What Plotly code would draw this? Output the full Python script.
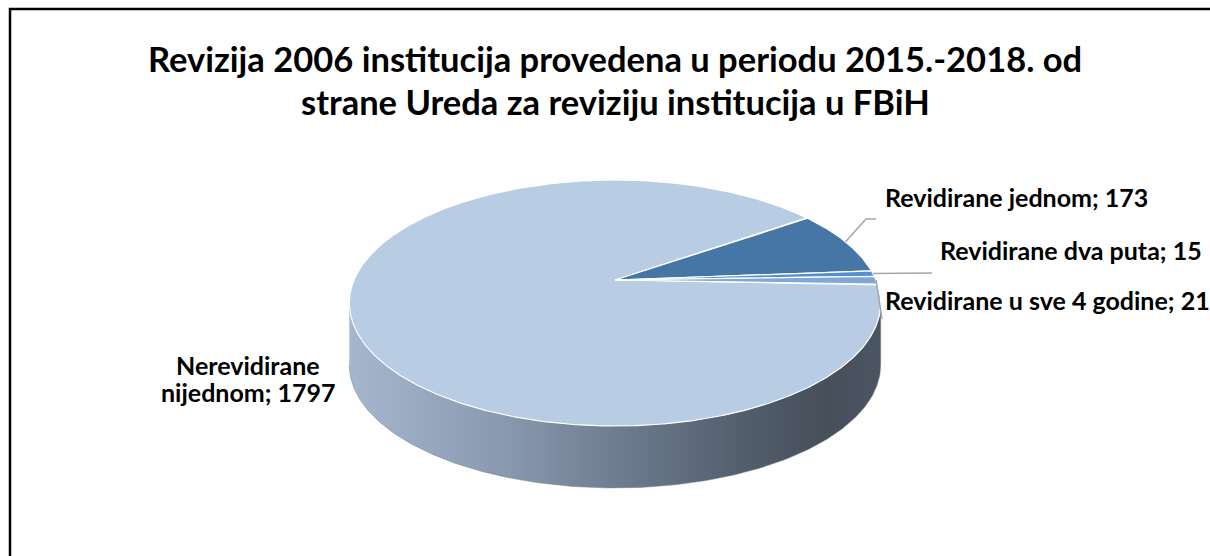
import numpy as np
import plotly.graph_objects as go

# ---------------- data ----------------
labels = ["Nerevidirane nijednom", "Revidirane jednom", "Revidirane dva puta", "Revidirane u sve 4 godine"]
values = [1797, 173, 15, 21]
top_colors = ["#B8CCE4", "#4576A6", "#5590CE", "#7EA8D9"]
side_colors = ["#6F7D91", "#2F5478", "#3A6898", "#5A7DA6"]
title_lines = ["Revizija 2006 institucija provedena u periodu 2015.-2018. od",
               "strane Ureda za reviziju institucija u FBiH"]

# ---------------- geometry / style ----------------
W, H = 1210, 556
FIRST_SLICE_ANGLE = 92.0      # clockwise from 12 o'clock
K_PERSP = 0.187               # perspective factor
DEPTH = 0.522                 # pie thickness (axis units)
CX_PX, CY_PX, RX_PX, RY_PX = 615, 280, 261, 118.7
FONT = "Lato"
LABEL_SIZE = 25
TITLE_SIZE = 34.5

x_range = [(0 - CX_PX) / RX_PX, (W - CX_PX) / RX_PX]
y_range = [(CY_PX - H) / RY_PX, CY_PX / RY_PX]


def to_data(px, py):
    return (px - CX_PX) / RX_PX, (CY_PX - py) / RY_PX


def proj(theta_deg):
    t = np.radians(theta_deg)
    X, Y = np.cos(t), np.sin(t)
    s = 1 + K_PERSP * Y
    return X / s, Y / s


total = float(sum(values))
cum = np.concatenate([[0], np.cumsum(values)])
slices = []
for i, v in enumerate(values):
    c0 = FIRST_SLICE_ANGLE + 360 * cum[i] / total
    c1 = FIRST_SLICE_ANGLE + 360 * cum[i + 1] / total
    slices.append((90 - c0, 90 - c1))   # standard angles, a0 > a1

fig = go.Figure()

# ---- side (front visible band) ----
lo = 180 + np.degrees(np.arcsin(K_PERSP))
hi = 360 - np.degrees(np.arcsin(K_PERSP))
side_scale = [[0, "#A6B6CD"], [0.3, "#8898AE"], [0.5, "#6F7D91"],
              [0.75, "#525D6B"], [0.9, "#464F5A"], [1, "#4B5562"]]
for i, (a0, a1) in enumerate(slices):
    a1n = a1 % 360
    a0n = a1n + (a0 - a1)
    for off in (0, 360):
        s_lo = max(a1n, lo + off)
        s_hi = min(a0n, hi + off)
        if s_hi > s_lo:
            th = np.linspace(s_lo, s_hi, 200)
            x, y = proj(th)
            xs = np.concatenate([x, x[::-1]])
            ys = np.concatenate([y, (y - DEPTH)[::-1]])
            kw = {}
            if i == 0:
                kw["fillgradient"] = dict(type="horizontal", colorscale=side_scale)
            fig.add_trace(go.Scatter(x=xs, y=ys, mode="lines", fill="toself",
                                     fillcolor=side_colors[i],
                                     line=dict(color=side_colors[i], width=0.5),
                                     hoverinfo="skip", showlegend=False, **kw))

# ---- top faces ----
for i, (a0, a1) in enumerate(slices):
    n = max(int(abs(a0 - a1) * 3), 8)
    th = np.linspace(a0, a1, n)
    x, y = proj(th)
    xs = np.concatenate([[0], x, [0]])
    ys = np.concatenate([[0], y, [0]])
    fig.add_trace(go.Scatter(x=xs, y=ys, mode="lines", fill="toself",
                             fillcolor=top_colors[i],
                             line=dict(color="white", width=1.2),
                             name=labels[i], hoverinfo="name", showlegend=False))

# ---- labels with leader lines ----
label_pos = {  # pixel positions (left x, centre y) and leader-line elbows
    1: dict(x=883, y=197, elbow=[(866, 219), (876, 219)]),
    2: dict(x=938, y=250, elbow=[(932, 273)]),
    3: dict(x=883, y=300, elbow=[(882, 319)]),
}
for i, p in label_pos.items():
    a0, a1 = slices[i]
    mx, my = proj((a0 + a1) / 2)
    pts = [(float(mx), float(my))] + [to_data(*e) for e in p["elbow"]]
    fig.add_trace(go.Scatter(x=[q[0] for q in pts], y=[q[1] for q in pts], mode="lines",
                             line=dict(color="#A6A6A6", width=1.5),
                             hoverinfo="skip", showlegend=False))
    fig.add_annotation(x=p["x"] / W, y=1 - p["y"] / H, xref="paper", yref="paper",
                       text=f"<b>{labels[i]}; {values[i]}</b>", showarrow=False,
                       xanchor="left", yanchor="middle",
                       font=dict(family=FONT, size=LABEL_SIZE, color="black"))

# first label wraps over two lines
first_words = labels[0].split(" ")
first_lines = [first_words[0], f"{' '.join(first_words[1:])}; {values[0]}"]
for line, yc in zip(first_lines, [365, 392]):
    fig.add_annotation(x=248 / W, y=1 - yc / H, xref="paper", yref="paper",
                       text=f"<b>{line}</b>", showarrow=False,
                       xanchor="center", yanchor="middle",
                       font=dict(family=FONT, size=LABEL_SIZE, color="black"))

# ---- title ----
for line, yc in zip(title_lines, [58, 102]):
    fig.add_annotation(x=615 / W, y=1 - yc / H, xref="paper", yref="paper",
                       text=f"<b>{line}</b>", showarrow=False,
                       xanchor="center", yanchor="middle",
                       font=dict(family=FONT, size=TITLE_SIZE, color="black"))

# ---- chart frame ----
fig.add_shape(type="rect", xref="paper", yref="paper",
              x0=10 / W, y0=1 - 9 / H, x1=1.02, y1=-0.02,
              line=dict(color="black", width=2.5), fillcolor="rgba(0,0,0,0)")

fig.update_layout(width=W, height=H, margin=dict(l=0, r=0, t=0, b=0),
                  paper_bgcolor="white", plot_bgcolor="white",
                  xaxis=dict(range=x_range, visible=False, fixedrange=True),
                  yaxis=dict(range=y_range, visible=False, fixedrange=True),
                  showlegend=False)

fig.write_html("out.html", config={"displayModeBar": False},
               post_script="document.body.style.margin='0px';")
